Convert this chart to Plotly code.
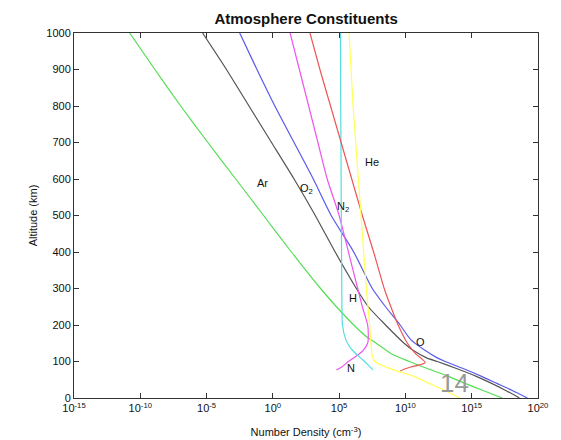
import plotly.graph_objects as go

# Altitudes (km) and log10 number densities (cm^-3)
ar_alt = [1000, 900, 800, 700, 600, 500, 400, 300, 250, 200, 170, 150, 120, 100, 80, 60, 40, 20, 0]
ar_log = [-10.8, -8.9, -6.95, -4.9, -2.8, -0.7, 1.4, 3.6, 4.8, 6.1, 7.0, 7.8, 9.0, 10.3, 11.7, 13.2, 14.5, 15.9, 17.3]

o2_alt = [1000, 900, 800, 700, 600, 500, 400, 300, 250, 200, 150, 130, 110, 100, 80, 60, 40, 20, 0]
o2_log = [-5.3, -3.5, -1.8, -0.1, 1.6, 3.2, 4.7, 6.3, 7.2, 8.5, 9.9, 10.6, 11.6, 12.4, 13.9, 15.3, 16.5, 17.6, 18.6]

n2_alt = [1000, 900, 800, 700, 600, 500, 400, 300, 250, 200, 160, 130, 110, 100, 80, 60, 40, 20, 0]
n2_log = [-2.5, -1.2, 0.15, 1.6, 3.05, 4.4, 6.1, 7.5, 8.5, 9.6, 10.4, 11.5, 12.4, 13.0, 14.4, 15.7, 16.9, 18.1, 19.2]

n_alt = [1000, 900, 800, 700, 600, 500, 400, 300, 250, 200, 170, 150, 130, 115, 100, 85, 77]
n_log = [1.3, 2.0, 2.7, 3.4, 4.1, 5.0, 5.7, 6.4, 6.75, 7.15, 7.2, 7.15, 6.8, 6.3, 5.7, 5.2, 4.8]

h_alt = [1000, 800, 600, 400, 300, 200, 160, 140, 120, 104, 90, 77]
h_log = [5.1, 5.12, 5.15, 5.18, 5.2, 5.25, 5.5, 5.8, 6.3, 6.8, 7.2, 7.55]

o_alt = [1000, 900, 800, 700, 600, 500, 400, 300, 250, 200, 150, 120, 105, 97, 90, 85, 80, 74]
o_log = [2.8, 3.55, 4.35, 5.15, 5.95, 6.75, 7.6, 8.4, 8.9, 9.45, 10.15, 10.8, 11.3, 11.5, 11.0, 10.4, 10.0, 9.6]

he_alt = [1000, 900, 800, 700, 600, 500, 400, 300, 200, 150, 115, 100, 90, 77, 60, 40, 20, 0]
he_log = [5.75, 5.9, 6.05, 6.25, 6.45, 6.65, 6.85, 7.05, 7.3, 7.4, 7.5, 7.7, 8.2, 9.1, 10.6, 11.8, 13.0, 14.1]

series = [
    ("Ar", ar_alt, ar_log, "#55dd55"),
    ("O2", o2_alt, o2_log, "#555555"),
    ("N2", n2_alt, n2_log, "#5a5aee"),
    ("N", n_alt, n_log, "#ee55ee"),
    ("H", h_alt, h_log, "#55dddd"),
    ("O", o_alt, o_log, "#ee5555"),
    ("He", he_alt, he_log, "#ffff55"),
]

tick_exp = [-15, -10, -5, 0, 5, 10, 15, 20]
tick_text = ["10<sup>%d</sup>" % e for e in tick_exp]
y_ticks = list(range(0, 1001, 100))

# label positions: (text, log10 density, altitude)
labels = [
    ("Ar", -0.75, 590),
    ("O<sub>2</sub>", 2.5, 572),
    ("N<sub>2</sub>", 5.3, 523),
    ("He", 7.47, 647),
    ("H", 6.04, 274),
    ("O", 11.1, 154),
    ("N", 5.89, 82),
]

fig = go.Figure()
for name, alt, lg, col in series:
    fig.add_trace(go.Scatter(
        x=[10.0 ** v for v in lg], y=alt, mode="lines", name=name,
        line=dict(color=col, width=1.2, shape="spline", smoothing=0.6), showlegend=False))

for txt, lx, ly in labels:
    fig.add_annotation(x=lx, y=ly, text=txt, showarrow=False,
                       font=dict(family="Liberation Sans, Arial", size=11, color="#111"))

fig.add_annotation(x=13.73, y=40, text="14", showarrow=False,
                   font=dict(family="Liberation Sans, Arial", size=26, color="#999999"))

fig.update_layout(
    width=553, height=432,
    margin=dict(l=66, r=23, t=25, b=42),
    paper_bgcolor="white", plot_bgcolor="white",
    title=dict(text="<b>Atmosphere Constituents</b>", x=0.539, xanchor="center",
               y=0.976, yanchor="middle",
               font=dict(family="Liberation Sans, Arial", size=15, color="#111")),
    font=dict(family="Liberation Sans, Arial", size=11, color="#111"),
)
fig.update_xaxes(
    type="log", range=[-15, 20], tickvals=[10.0 ** e for e in tick_exp], ticktext=tick_text,
    ticks="inside", ticklen=5, tickcolor="#333", showline=True, linecolor="#333",
    linewidth=1, mirror="ticks", showgrid=False, zeroline=False, automargin=False,
    title=dict(text="Number Density (cm<sup>-3</sup>)", standoff=15, font=dict(size=11)),
)
fig.update_yaxes(
    range=[0, 1000], tickvals=y_ticks, ticks="inside", ticklen=5, tickcolor="#333",
    showline=True, linecolor="#333", linewidth=1, mirror="ticks", showgrid=False,
    zeroline=False, automargin=False,
    title=dict(text="Altitude (km)", standoff=6, font=dict(size=11)),
)
fig.write_html("out.html")
